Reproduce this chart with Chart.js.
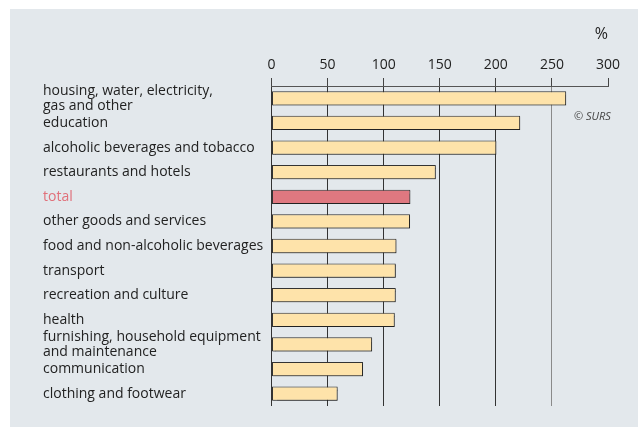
<!DOCTYPE html>
<html>
<head>
<meta charset="utf-8">
<script src="https://cdn.jsdelivr.net/npm/chart.js@4/dist/chart.umd.min.js"></script>
<style>
    body { margin: 0; background: #ffffff; }
    #wrap { position: relative; width: 638px; height: 427px; overflow: hidden; }
    #panel { position: absolute; left: 10px; top: 9px; right: 0; bottom: 0; background: #e3e8ec; }
    #chart { position: absolute; left: 0; top: 0; }
    #source { position: absolute; left: 574px; top: 108px; font: italic 11px "Open Sans", sans-serif; color: #444; }
</style>
</head>
<body>
<div id="wrap">
    <div id="panel"></div>
    <canvas id="chart" width="638" height="427"></canvas>
    <div id="source">© SURS</div>
</div>
<script>
const categories = [
    ["housing, water, electricity,", "gas and other"],
    "education",
    "alcoholic beverages and tobacco",
    "restaurants and hotels",
    "total",
    "other goods and services",
    "food and non-alcoholic beverages",
    "transport",
    "recreation and culture",
    "health",
    ["furnishing, household equipment", "and maintenance"],
    "communication",
    "clothing and footwear"
];
const values = [262.7, 221.7, 200.5, 146.5, 123.8, 123.5, 111.4, 110.8, 110.8, 109.9, 89.7, 81.6, 59.0];
const totalIndex = 4;

const barColor = "#fee3aa";
const totalColor = "#df7880";

// light drop shadow on the bars, like the original print graphic
const shadowPlugin = {
    id: "barShadow",
    beforeDatasetsDraw(chart) {
        const ctx = chart.ctx;
        ctx.save();
        ctx.shadowColor = "rgba(0, 0, 0, 0.35)";
        ctx.shadowOffsetX = 1;
        ctx.shadowOffsetY = 1;
        ctx.shadowBlur = 1;
    },
    afterDatasetsDraw(chart) {
        chart.ctx.restore();
    }
};

const ctx = document.getElementById("chart").getContext("2d");

new Chart(ctx, {
    type: "bar",
    data: {
        labels: categories,
        datasets: [{
            data: values,
            backgroundColor: values.map((v, i) => i === totalIndex ? totalColor : barColor),
            borderColor: "#333333",
            borderWidth: 1,
            borderSkipped: false,
            barPercentage: 0.58,
            categoryPercentage: 1
        }]
    },
    options: {
        indexAxis: "y",
        responsive: false,
        animation: false,
        layout: {
            padding: { top: 25, left: 43, right: 30, bottom: 21 }
        },
        plugins: {
            legend: { display: false },
            tooltip: { enabled: false }
        },
        scales: {
            x: {
                position: "top",
                min: 0,
                max: 300,
                ticks: {
                    stepSize: 50,
                    color: "#222222",
                    padding: 5,
                    font: { family: "Open Sans", size: 14 }
                },
                grid: {
                    color: c => c.index === 6 ? "rgba(0,0,0,0)" : (c.index === 5 ? "#8a8a8a" : "#333333"),
                    tickColor: "#444444",
                    tickLength: 8,
                    lineWidth: 1
                },
                border: { display: true, color: "#555555" },
                title: {
                    display: true,
                    text: "%",
                    align: "end",
                    color: "#222222",
                    padding: { top: 0, bottom: 7 },
                    font: { family: "Open Sans", size: 16 }
                }
            },
            y: {
                afterFit(scale) {
                    scale.width = 228.5;
                },
                ticks: {
                    autoSkip: false,
                    crossAlign: "far",
                    padding: 0,
                    color: c => c.index === totalIndex ? "#e0707a" : "#222222",
                    font: { family: "Open Sans", size: 14, lineHeight: 1.08 }
                },
                grid: { display: false, drawTicks: false },
                border: { display: false }
            }
        }
    },
    plugins: [shadowPlugin]
});
</script>
</body>
</html>
